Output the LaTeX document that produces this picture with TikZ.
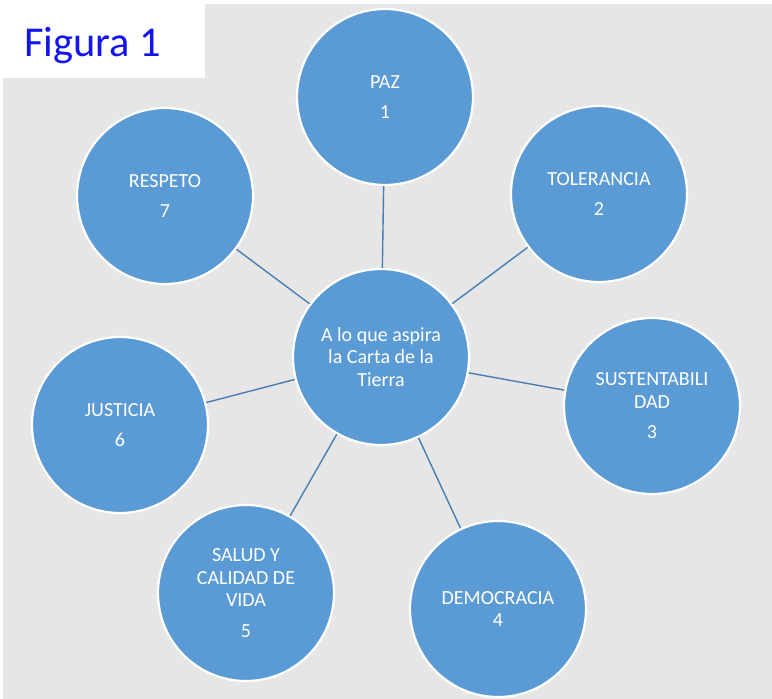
\documentclass[tikz,border=0pt]{standalone}
\usepackage{fontspec}
\setmainfont{Carlito}
\definecolor{bgray}{HTML}{E6E6E6}
\definecolor{cblue}{HTML}{5B9BD5}
\definecolor{lblue}{HTML}{4A7EB0}
\definecolor{figblue}{HTML}{1414F0}
\tikzset{
  bubble/.style={circle, fill=cblue, draw=white, line width=2.2pt, minimum size=176pt, inner sep=0pt,
    text=white, align=center, font=\fontsize{20pt}{22.5pt}\selectfont},
  link/.style={draw=lblue, line width=1.4pt}
}
\begin{document}
\begin{tikzpicture}[x=1pt,y=-1pt]
\useasboundingbox (0,0) rectangle (772,699);
\fill[white] (0,0) rectangle (772,699);
\fill[bgray] (3,4) rectangle (772,699);
\fill[white] (3,4) rectangle (205,78);
\node[anchor=base west, inner sep=0pt, text=figblue, font=\fontsize{42.5pt}{50pt}\selectfont] (fig) at (24,56) {Figura 1};

\node[bubble] (c) at (381,357) {A lo que aspira\\la Carta de la\\Tierra};
\node[bubble] (n1) at (385,97) {PAZ\\[8pt]1};
\node[bubble] (n2) at (599,194) {TOLERANCIA\\[8pt]2};
\node[bubble] (n3) at (652,406) {SUSTENTABILI\\DAD\\[8pt]3};
\node[bubble] (n4) at (498,609) {DEMOCRACIA\\4};
\node[bubble] (n5) at (246,593) {SALUD Y\\CALIDAD DE\\VIDA\\[8pt]5};
\node[bubble] (n6) at (120,425) {JUSTICIA\\[8pt]6};
\node[bubble] (n7) at (165,196) {RESPETO\\[8pt]7};

\foreach \n in {n1,n2,n3,n4,n5,n6,n7}
  \draw[link] (c) -- (\n);
\end{tikzpicture}
\end{document}
